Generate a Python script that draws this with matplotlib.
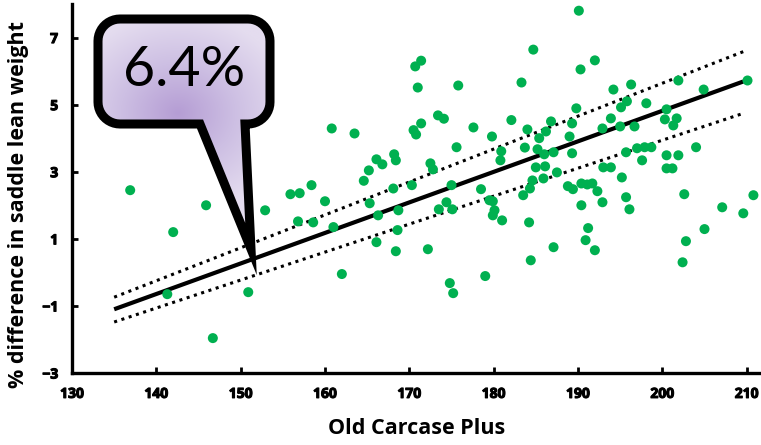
import numpy as np
import matplotlib
matplotlib.use('Agg')
import matplotlib.pyplot as plt
import matplotlib.patheffects as pe
from matplotlib.patches import Polygon
from matplotlib.colors import LinearSegmentedColormap

# scatter data (Old Carcase Plus vs % difference in saddle lean weight)
carcase_plus = [
    136.9, 141.3, 142.0, 145.9, 146.7, 150.9, 152.9, 155.9, 157.0, 158.4,
    156.8, 158.6, 160.0, 160.8, 161.0, 162.0, 163.5, 164.6, 165.2, 166.1,
    165.3, 166.3, 166.1, 166.8, 168.2, 168.4, 168.1, 168.7, 168.6, 168.4,
    170.3, 170.5, 170.8, 171.4, 170.7, 171.4, 171.0, 172.5, 172.8, 172.2,
    173.4, 174.1, 173.5, 174.4, 175.1, 175.0, 174.8, 175.2, 175.6, 175.8,
    177.6, 178.5, 179.0, 179.5, 179.9, 180.1, 179.9, 181.0, 179.8, 180.9,
    180.8, 182.1, 183.3, 183.7, 183.5, 184.3, 184.6, 184.0, 184.2, 184.4,
    184.7, 185.4, 186.2, 186.8, 185.2, 186.0, 185.0, 186.1, 185.9, 187.1,
    187.5, 187.1, 188.8, 189.4, 190.4, 191.1, 191.7, 192.3, 190.4, 192.9,
    191.2, 190.9, 192.0, 189.0, 189.3, 189.3, 189.8, 190.1, 190.3, 192.0,
    192.9, 193.0, 193.9, 193.9, 194.2, 195.0, 195.1, 195.8, 196.3, 196.7,
    195.7, 195.2, 195.7, 196.1, 197.0, 197.9, 198.7, 197.6, 198.1, 200.5,
    200.3, 201.7, 201.3, 200.5, 201.9, 200.5, 201.2, 201.9, 204.0, 204.9,
    202.6, 202.8, 202.4, 205.0, 207.1, 209.6, 210.1, 210.8,
]
lean_diff = [
    2.45, -0.65, 1.20, 2.00, -1.96, -0.59, 1.85, 2.33, 2.36, 2.60,
    1.52, 1.49, 2.12, 4.29, 1.35, -0.05, 4.14, 2.73, 3.04, 3.37,
    2.06, 1.70, 0.90, 3.22, 3.52, 3.34, 2.50, 1.85, 1.26, 0.63,
    2.60, 4.24, 4.11, 4.44, 6.14, 6.31, 5.51, 3.25, 3.07, 0.69,
    4.68, 4.58, 1.88, 2.09, 1.88, 2.60, -0.32, -0.62, 3.73, 5.57,
    4.32, 2.48, -0.11, 2.15, 2.12, 1.85, 1.70, 1.55, 4.05, 3.61,
    3.34, 4.54, 5.66, 3.72, 2.30, 2.50, 2.74, 4.26, 1.49, 0.36,
    6.64, 4.00, 4.20, 4.50, 3.67, 3.52, 3.13, 3.16, 2.80, 3.58,
    2.98, 0.75, 2.57, 2.48, 2.65, 2.62, 2.65, 2.42, 2.00, 2.09,
    1.32, 0.96, 0.66, 4.05, 4.44, 3.55, 4.89, 7.80, 6.05, 6.32,
    4.29, 3.13, 3.13, 4.59, 5.45, 4.35, 4.92, 5.10, 5.60, 4.35,
    3.58, 2.83, 2.24, 1.88, 3.70, 3.73, 3.73, 3.34, 5.04, 4.86,
    4.56, 4.59, 4.38, 3.49, 3.49, 3.10, 3.10, 5.72, 3.73, 5.45,
    2.33, 0.93, 0.30, 1.29, 1.94, 1.76, 5.72, 2.30,
]

# fitted line and bands
fit_x = [135, 209.6]
fit_y = [-1.10, 5.69]
upper_y = [-0.74, 6.58]
lower_y = [-1.48, 4.74]

x_ticks = [130, 140, 150, 160, 170, 180, 190, 200, 210]
y_ticks = [-3, -1, 1, 3, 5, 7]
callout_text = '6.4%'

plt.rcParams['font.family'] = ['Open Sans', 'DejaVu Sans']
plt.rcParams['font.weight'] = 'bold'

fig = plt.figure(figsize=(7.61, 4.45), dpi=100)
ax = fig.add_axes([72 / 761, 72 / 445, 689 / 761, 369 / 445])

ax.plot(fit_x, fit_y, color='black', lw=3.0, solid_capstyle='butt', zorder=2)
ax.plot(fit_x, upper_y, color='black', lw=2.2, linestyle=(0, (1, 1.5)), zorder=2)
ax.plot(fit_x, lower_y, color='black', lw=2.2, linestyle=(0, (1, 1.5)), zorder=2)
ax.scatter(carcase_plus, lean_diff, s=52, color='#00b050', edgecolors='none', zorder=3)

ax.set_xlim(130, 211.7)
ax.set_ylim(-3, 8)
ax.set_xticks(x_ticks)
ax.set_yticks(y_ticks)
for s in ['top', 'right']:
    ax.spines[s].set_visible(False)
for s in ['left', 'bottom']:
    ax.spines[s].set_linewidth(2.4)
ax.tick_params(direction='in', length=4, width=2, labelsize=10, pad=10)

ax.set_xlabel('Old Carcase Plus', fontsize=15.5, fontweight='bold', labelpad=12)
ax.set_ylabel('% difference in saddle lean weight', fontsize=15.5, fontweight='bold')
ax.yaxis.set_label_coords(-0.063, 0.457)

# callout bubble drawn in pixel space
ov = fig.add_axes([0, 0, 1, 1], zorder=5)
ov.axis('off')


def bubble(x0, y0, x1, y1, r, tl, tr, tip):
    pts = []
    def arc(cx, cy, a0, a1):
        for a in np.linspace(a0, a1, 12):
            pts.append((cx + r * np.cos(a), cy + r * np.sin(a)))
    arc(x0 + r, y0 + r, np.pi, 1.5 * np.pi)
    arc(x1 - r, y0 + r, 1.5 * np.pi, 2 * np.pi)
    arc(x1 - r, y1 - r, 0, 0.5 * np.pi)
    pts.append((tr, y1))
    pts.append(tip)
    pts.append((tl, y1))
    arc(x0 + r, y1 - r, 0.5 * np.pi, np.pi)
    return np.array(pts)


verts = bubble(98, 19, 270, 124, 22, 200, 245, (251, 249))
outline = Polygon(verts, closed=True, facecolor='none', edgecolor='black',
                  lw=6.5, joinstyle='miter', zorder=7)
clip = Polygon(verts, closed=True, facecolor='none', edgecolor='none')
ov.add_patch(clip)

gx, gy = np.meshgrid(np.linspace(90, 280, 200), np.linspace(10, 260, 260))
dist = np.sqrt(((gx - 178) / 115) ** 2 + ((gy - 113) / 100) ** 2)
cmap = LinearSegmentedColormap.from_list('bub', ['#b59dd4', '#cdbfe3', '#e4dcef'])
img = ov.imshow(np.clip(dist, 0, 1), cmap=cmap, extent=(90, 280, 260, 10),
                origin='upper', vmin=0, vmax=1, zorder=6, aspect='auto')
img.set_clip_path(clip)
ov.add_patch(outline)
ov.set_xlim(0, 761)
ov.set_ylim(445, 0)
ov.text(184, 71, callout_text, fontsize=40, fontweight='normal', ha='center',
        va='center', zorder=8, family=['Lato', 'DejaVu Sans'])

# thicken tick labels once they exist
fig.canvas.draw()
bold_fx = [pe.withStroke(linewidth=0.8, foreground='black')]
for lab in ax.get_xticklabels() + ax.get_yticklabels():
    lab.set_path_effects(bold_fx)

fig.savefig('out.png', dpi=100)
